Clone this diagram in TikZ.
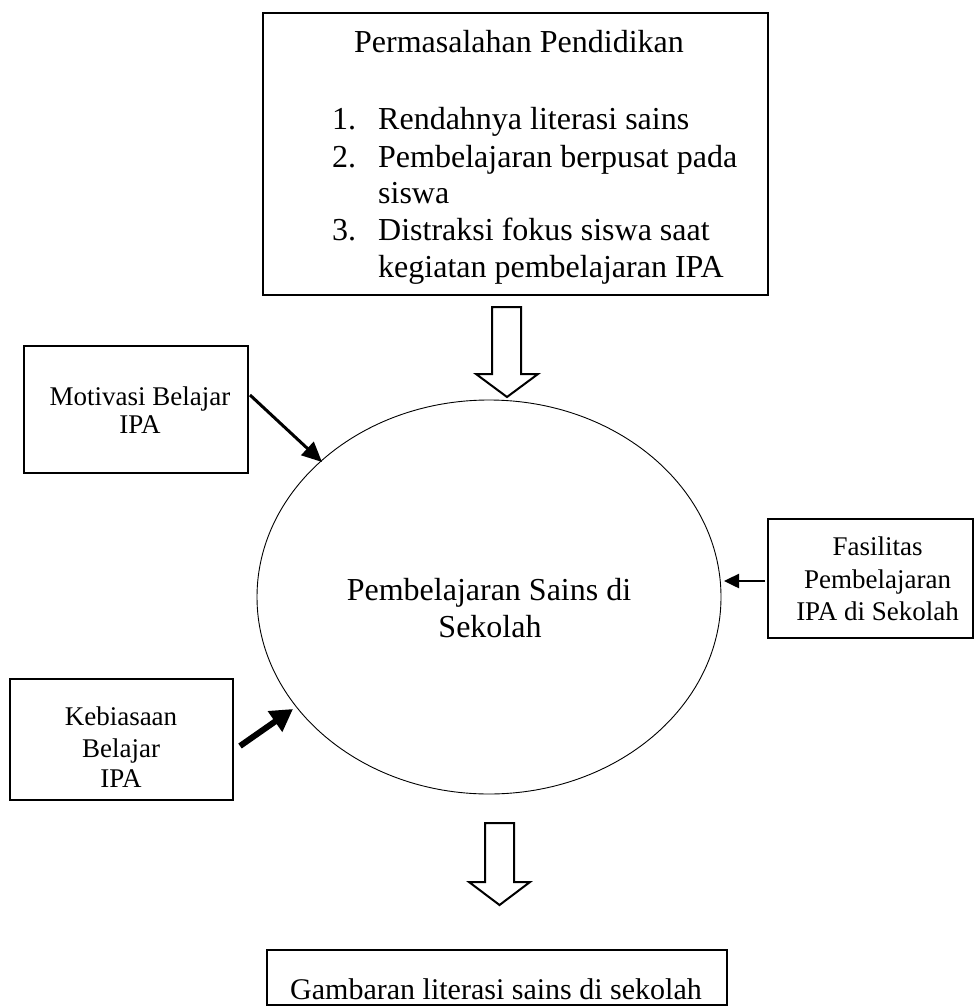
\documentclass[tikz,border=0pt]{standalone}
\usepackage{fontspec}
\setmainfont{Liberation Serif}
\usetikzlibrary{arrows.meta,shapes.geometric}
\begin{document}
\begin{tikzpicture}[x=1pt,y=-1pt,
  boxframe/.style={draw,line width=1.8pt,rectangle,inner sep=0pt},
  txt/.style={anchor=base,inner sep=0pt},
  txtl/.style={anchor=base west,inner sep=0pt},
  bigf/.style={font=\fontsize{32}{37}\selectfont},
  midf/.style={font=\fontsize{30}{35}\selectfont},
  smallf/.style={font=\fontsize{27}{32}\selectfont},
  blockarrow/.style={draw,line width=2pt,fill=white,line join=miter},
  feed/.style={draw}
]
\useasboundingbox (0,0) rectangle (974,1006);

% top box
\node[boxframe,minimum width=505pt,minimum height=282pt] (top) at (515.5,154) {};
\node[txt,bigf] (t0) at (519,53) {Permasalahan Pendidikan};
\node[txtl,bigf] (n1) at (332,130) {1.};
\node[txtl,bigf] (i1) at (378,130) {Rendahnya literasi sains};
\node[txtl,bigf] (n2) at (332,167) {2.};
\node[txtl,bigf] (i2) at (378,167) {Pembelajaran berpusat pada};
\node[txtl,bigf] (i2b) at (378,203) {siswa};
\node[txtl,bigf] (n3) at (332,240) {3.};
\node[txtl,bigf] (i3) at (378,240) {Distraksi fokus siswa saat};
\node[txtl,bigf] (i3b) at (378,277) {kegiatan pembelajaran IPA};

% ellipse
\node[draw,line width=0.9pt,ellipse,minimum width=464pt,minimum height=394pt,inner sep=0pt] (ell) at (489,597) {};
\node[txt,bigf] (e1) at (489,600) {Pembelajaran Sains di};
\node[txt,bigf] (e2) at (490,637) {Sekolah};

% Motivasi
\node[boxframe,minimum width=224pt,minimum height=127pt] (mot) at (136,409.5) {};
\node[txt,smallf] (m1) at (140,405) {Motivasi Belajar};
\node[txt,smallf] (m2) at (140,433) {IPA};

% Fasilitas
\node[boxframe,minimum width=205pt,minimum height=119pt] (fas) at (870.5,578.5) {};
\node[txt,smallf] (f1) at (877.5,555) {Fasilitas};
\node[txt,smallf] (f2) at (877.5,588) {Pembelajaran};
\node[txt,smallf] (f3) at (877.5,620) {IPA di Sekolah};

% Kebiasaan
\node[boxframe,minimum width=223pt,minimum height=121pt] (keb) at (121.5,739.5) {};
\node[txt,smallf] (k1) at (121,725) {Kebiasaan};
\node[txt,smallf] (k2) at (121,757) {Belajar};
\node[txt,smallf] (k3) at (121,787) {IPA};

% bottom box
\node[boxframe,line width=1.5pt,minimum width=460pt,minimum height=55pt] (bot) at (497,977.5) {};
\node[txt,midf] (b1) at (496,999) {Gambaran literasi sains di sekolah};

% block arrows
\draw[blockarrow] (492,307) -- (521,307) -- (521,374) -- (538,374) -- (507,397) -- (476,374) -- (492,374) -- cycle;
\draw[blockarrow] (485,823) -- (514,823) -- (514,882) -- (530,882) -- (499.5,905) -- (469,882) -- (485,882) -- cycle;

% feed arrows
\coordinate (ma) at (250,395);
\coordinate (mb) at (322,462);
\draw[feed,line width=3pt,-{Triangle[length=20pt,width=18pt]}] (ma) -- (mb);
\coordinate (fa) at (765,581);
\coordinate (fb) at (724,581);
\draw[feed,line width=2.5pt,-{Triangle[length=15pt,width=14pt]}] (fa) -- (fb);
\coordinate (ka) at (240,746);
\coordinate (kb) at (293,709);
\draw[feed,line width=6pt,-{Triangle[length=22pt,width=24pt]}] (ka) -- (kb);
\end{tikzpicture}
\end{document}
